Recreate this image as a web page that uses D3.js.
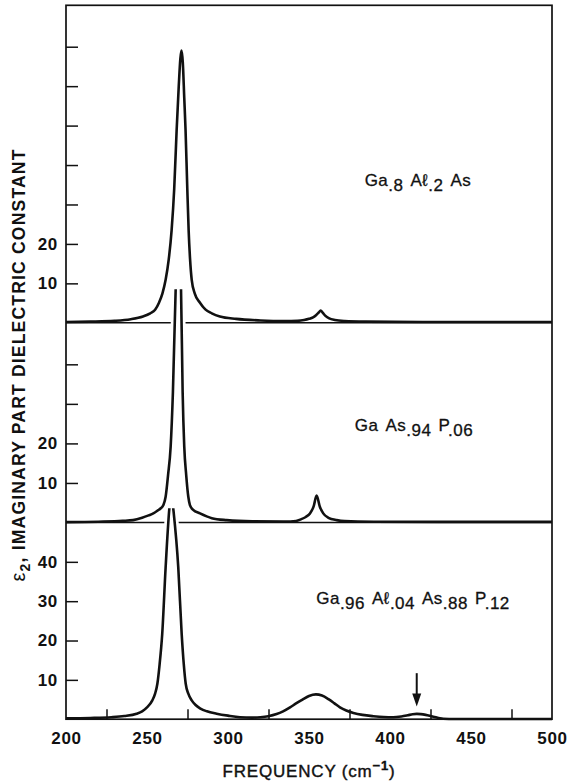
<!DOCTYPE html>
<html><head><meta charset="utf-8">
<script src="https://cdn.jsdelivr.net/npm/d3@7"></script>
<style>
body{margin:0;background:#fff;}
svg{display:block;}
text{font-family:"Liberation Sans",Arial,Helvetica,sans-serif;fill:#111;}
</style>
</head><body>
<svg id="c" width="569" height="783"></svg>
<script>
// ---------- data ----------
const xLabelTicks = [200, 250, 300, 350, 400, 450, 500];
const xMinorTicks = [225, 275, 325, 375, 425, 475];
const topTicks = [10, 20, 30, 40, 50, 60, 70];
const topTickLabels = ["10", "20", "", "", "", "", ""];
const midTicks = [10, 20, 30, 40];
const midTickLabels = ["10", "20", "", ""];
const botTicks = [10, 20, 30, 40];
const botTickLabels = ["10", "20", "30", "40"];

// Ga.8 Al.2 As
const topFreq = [200,215,230,240,247.5,252,255,257.4,259.5,261.5,263.4,265.2,266.8,268.3,269.6,270.6,271.3,272.1,273,273.8,274.8,275.7,276.6,277.6,279.5,282.7,286,290,295,305,320,335,343,347,350,352.5,354.5,356,357.2,358.4,360,362.5,366,372,385,420,460,500];
const topEps  = [0.2,0.3,0.5,0.9,1.6,2.4,3.3,5.1,7.4,10.9,16,23.5,34,48.9,60,67,69,66,57,48.9,35,23.5,16,10.9,7.4,5.1,3.4,2.4,1.6,1.0,0.6,0.45,0.5,0.7,1.0,1.4,2.0,2.6,3.1,2.6,1.8,1.1,0.7,0.45,0.3,0.2,0.2,0.2];

// Ga As.94 P.06
const midFreq = [200,220,235,241.4,247,251,253.9,256.5,258.5,260.1,261.5,263,264.6,266,267.7,269.4,271,272,273,274.2,275.5,276.5,278.5,282.7,290,299.2,315,335,342,345,348,350.6,352.8,354.7,356.7,358.8,362,367.1,372,390,430,500];
const midEps  = [0.1,0.2,0.4,0.6,1.2,1.8,2.3,3.0,3.6,4.4,6.5,12,19.2,33,59,72,59,33,19.2,12,6.5,4.4,3.2,2.3,1.1,0.6,0.3,0.25,0.4,0.8,1.4,2.3,4.0,6.8,4.0,2.3,1.2,0.6,0.35,0.2,0.15,0.15];
const midCap = 59;   // curve shown up to this value (runs into panel above)

// Ga.96 Al.04 As.88 P.12
const botFreq = [200,215,228,236,243.6,247,250,253.3,255,256.4,257.8,259.4,261.5,263.8,265,266.2,269.3,271.4,272.7,273.9,275.5,277.6,280,283,287,293,300,307.4,315,320,324.9,330,334,338.3,342,346,350,354.3,358,362,365.5,369.1,373,377.4,383,389.7,396,402,407,411,414,416.5,419,422,424.5,426.7,430,432.9,440,470,500];
const botEps  = [0.2,0.3,0.5,0.8,1.4,2.0,3.0,4.8,6.5,9,14,21.7,38.6,53.6,58,53.6,38.6,21.7,14,9,6.5,4.8,3.6,2.7,2.0,1.4,0.9,0.5,0.4,0.5,0.76,1.3,2.0,3.0,4.0,5.0,5.9,6.3,6.0,5.1,4.1,3.0,2.2,1.6,1.1,0.76,0.55,0.5,0.7,1.0,1.25,1.35,1.3,1.1,0.85,0.6,0.3,0.1,0.05,0.05,0.05];
const botCap = 53.6;

const arrowFreq = 416.5, arrowFrom = 11.7, arrowTo = 3.2;

const topLabel = [["Ga",0],[".8",1],["Aℓ",0],[".2",1],["As",0]];
const midLabel = [["Ga",0],["As",0],[".94",1],["P",0],[".06",1]];
const botLabel = [["Ga",0],[".96",1],["Aℓ",0],[".04",1],["As",0],[".88",1],["P",0],[".12",1]];

// ---------- layout ----------
const L = 66, R = 552;
const yTopEdge = 5.3, yDiv1 = 322.8, yDiv2 = 522.5, yBottom = 719.2;

const svg = d3.select("#c");
const x = d3.scaleLinear().domain([200, 500]).range([L, R]);
const yTop = d3.scaleLinear().domain([0, 80.5]).range([yDiv1, yTopEdge]);
const yMid = d3.scaleLinear().domain([0, 50.5]).range([yDiv2, yDiv1]);
const yBot = d3.scaleLinear().domain([0, 50]).range([yBottom, yDiv2]);

// frame
svg.append("rect").attr("x", L).attr("y", yTopEdge).attr("width", R - L).attr("height", yBottom - yTopEdge)
  .attr("fill", "none").attr("stroke", "#111").attr("stroke-width", 1.7);
[yDiv1, yDiv2].forEach(yy => svg.append("line").attr("x1", L).attr("x2", R).attr("y1", yy).attr("y2", yy)
  .attr("stroke", "#111").attr("stroke-width", 1.6));

// y axes
function yAxis(scale, ticks, labels) {
  const g = svg.append("g").attr("transform", `translate(${L},0)`)
    .call(d3.axisLeft(scale).tickValues(ticks).tickSize(-12).tickPadding(8)
      .tickFormat((d, i) => labels[i]));
  g.select(".domain").remove();
  g.selectAll(".tick line").attr("stroke", "#111").attr("stroke-width", 1.5);
  g.selectAll(".tick text").attr("font-size", 17).attr("font-weight", "bold")
    .attr("fill", "#111").style("font-family", "'Liberation Sans',Arial,sans-serif").attr("letter-spacing", 0.7);
}
yAxis(yTop, topTicks, topTickLabels);
yAxis(yMid, midTicks, midTickLabels);
yAxis(yBot, botTicks, botTickLabels);

// x axis
const gxMinor = svg.append("g").attr("transform", `translate(0,${yBottom})`)
  .call(d3.axisBottom(x).tickValues(xMinorTicks).tickSize(-10).tickFormat(""));
gxMinor.select(".domain").remove();
gxMinor.selectAll(".tick line").attr("stroke", "#111").attr("stroke-width", 1.5);
const gx = svg.append("g").attr("transform", `translate(0,${yBottom})`)
  .call(d3.axisBottom(x).tickValues(xLabelTicks).tickSize(0).tickPadding(13).tickFormat(d3.format("d")));
gx.select(".domain").remove();
gx.selectAll(".tick text").attr("font-size", 17).attr("font-weight", "bold").attr("fill", "#111")
  .style("font-family", "'Liberation Sans',Arial,sans-serif").attr("letter-spacing", 0.7);

// curves
const defs = svg.append("defs");
function clip(id, y0, y1) {
  defs.append("clipPath").attr("id", id).append("rect")
    .attr("x", L).attr("y", y0).attr("width", R - L).attr("height", y1 - y0);
  return `url(#${id})`;
}
function curve(freq, eps, yS, cap, panelTop, id) {
  const pts = freq.map((f, i) => [f, eps[i]]);
  const line = d3.line().x(d => x(d[0])).y(d => yS(d[1])).curve(d3.curveMonotoneX);
  if (cap != null) {
    // white halo that breaks the panel line above
    svg.append("path").attr("d", line(pts)).attr("fill", "none").attr("stroke", "#fff")
      .attr("stroke-width", 8).attr("clip-path", clip(id + "h", yS(cap), panelTop + 2));
    svg.append("path").attr("d", line(pts)).attr("fill", "none").attr("stroke", "#111")
      .attr("stroke-width", 2.6).attr("stroke-linejoin", "round")
      .attr("clip-path", clip(id, yS(cap), yS(0) + 4));
  } else {
    svg.append("path").attr("d", line(pts)).attr("fill", "none").attr("stroke", "#111")
      .attr("stroke-width", 2.6).attr("stroke-linejoin", "round");
  }
}
curve(topFreq, topEps, yTop, null, null, "ct");
curve(midFreq, midEps, yMid, midCap, yDiv1, "cm");
curve(botFreq, botEps, yBot, botCap, yDiv2, "cb");

// arrow
const ax = x(arrowFreq), ay0 = yBot(arrowFrom), ay1 = yBot(arrowTo);
svg.append("line").attr("x1", ax).attr("x2", ax).attr("y1", ay0).attr("y2", ay1 - 8)
  .attr("stroke", "#111").attr("stroke-width", 2);
svg.append("path").attr("d", `M${ax},${ay1} L${ax - 4.5},${ay1 - 13} L${ax + 4.5},${ay1 - 13} Z`).attr("fill", "#111");

// panel labels
function label(parts, cx, by) {
  const t = svg.append("text").attr("x", cx).attr("y", by).attr("text-anchor", "middle")
    .attr("font-size", 17).attr("letter-spacing", 0.5).attr("stroke", "#111").attr("stroke-width", 0.3);
  let prevSub = 0;
  parts.forEach((p, i) => {
    const ts = t.append("tspan").text(p[0]);
    let dy = (p[1] ? 5 : 0) - (prevSub ? 5 : 0);
    if (dy) ts.attr("dy", dy);
    if (i > 0 && !p[1]) ts.attr("dx", 7);
    prevSub = p[1];
  });
}
label(topLabel, 418, 186);
label(midLabel, 414, 431);
label(botLabel, 413, 604);

// axis titles
const yt = svg.append("text").attr("transform", "translate(25,365) rotate(-90)")
  .attr("text-anchor", "middle").attr("font-size", 17.5).attr("font-weight", "bold").attr("letter-spacing", 1.2);
yt.append("tspan").text("ε").attr("font-weight", "normal").attr("font-size", 20);
yt.append("tspan").text("2").attr("dy", 5).attr("font-size", 14);
yt.append("tspan").text(", IMAGINARY PART DIELECTRIC CONSTANT").attr("dy", -5);

const xt = svg.append("text").attr("x", 309).attr("y", 777).attr("text-anchor", "middle")
  .attr("font-size", 17).attr("letter-spacing", 0.8).attr("stroke", "#111").attr("stroke-width", 0.4);
xt.append("tspan").text("FREQUENCY (cm");
xt.append("tspan").text("−1").attr("dy", -7).attr("font-size", 13).attr("font-weight", "bold");
xt.append("tspan").text(")").attr("dy", 7);
</script>
</body></html>
